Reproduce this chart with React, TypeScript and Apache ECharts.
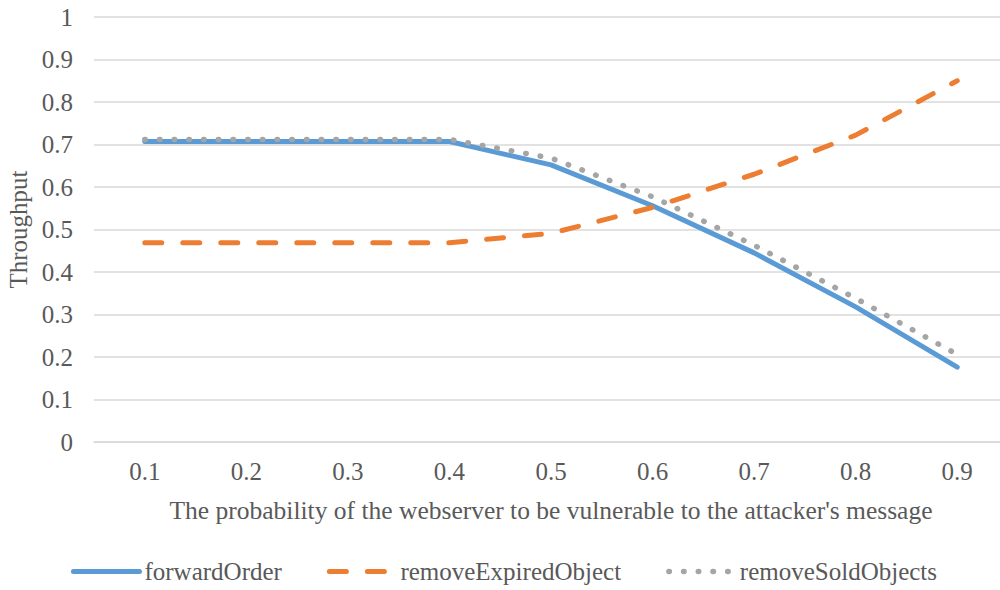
import React, { useEffect, useRef } from "react";
import * as echarts from "echarts";

const categories = ["0.1", "0.2", "0.3", "0.4", "0.5", "0.6", "0.7", "0.8", "0.9"];
const forwardOrder = [0.707, 0.707, 0.707, 0.707, 0.652, 0.556, 0.445, 0.318, 0.176];
const removeExpiredObject = [0.469, 0.469, 0.469, 0.469, 0.491, 0.552, 0.63, 0.722, 0.85];
const removeSoldObjects = [0.712, 0.712, 0.712, 0.712, 0.668, 0.577, 0.463, 0.338, 0.206];

const FONT = "Liberation Serif";
const TEXT = "#595959";
const DASH = [17, 21];
const DOT = [0.5, 14.2];

export default function App() {
  const ref = useRef<HTMLDivElement>(null);
  useEffect(() => {
    if (!ref.current) return;
    const chart = echarts.init(ref.current, undefined, { renderer: "svg" });
    chart.setOption({
      animation: false,
      backgroundColor: "#ffffff",
      textStyle: { fontFamily: FONT, color: TEXT },
      grid: {
        left: 94,
        right: 0,
        top: 17,
        bottom: 148,
        containLabel: false,
        outerBoundsMode: "none",
      },
      legend: {
        bottom: 1,
        left: "center",
        itemWidth: 66,
        itemHeight: 10,
        itemGap: 45,
        itemStyle: { opacity: 0 },
        textStyle: { fontFamily: FONT, fontSize: 25, color: TEXT },
        data: [
          { name: "forwardOrder", lineStyle: { width: 5, cap: "round" } },
          { name: "removeExpiredObject", lineStyle: { width: 5, cap: "round", type: DASH } },
          { name: "removeSoldObjects", lineStyle: { width: 5.5, cap: "round", type: DOT } },
        ],
      },
      xAxis: {
        type: "category",
        data: categories,
        boundaryGap: true,
        axisLine: { lineStyle: { color: "#d9d9d9", width: 1.5 } },
        axisTick: { show: false },
        axisLabel: { fontFamily: FONT, fontSize: 25, color: TEXT, margin: 17 },
        name: "The probability of the webserver to be vulnerable to the attacker's message",
        nameLocation: "middle",
        nameGap: 55,
        nameTextStyle: { fontFamily: FONT, fontSize: 25.5, color: TEXT },
      },
      yAxis: {
        type: "value",
        min: 0,
        max: 1,
        interval: 0.1,
        axisLine: { show: false },
        axisTick: { show: false },
        splitLine: { lineStyle: { color: "#d9d9d9", width: 1.5 } },
        axisLabel: { fontFamily: FONT, fontSize: 25, color: TEXT, margin: 21 },
        name: "Throughput",
        nameLocation: "middle",
        nameGap: 61,
        nameTextStyle: { fontFamily: FONT, fontSize: 25, color: TEXT },
      },
      series: [
        {
          name: "forwardOrder",
          type: "line",
          data: forwardOrder,
          symbol: "none",
          color: "#5B9BD5",
          lineStyle: { color: "#5B9BD5", width: 5, cap: "round", join: "round" },
        },
        {
          name: "removeExpiredObject",
          type: "line",
          data: removeExpiredObject,
          symbol: "none",
          color: "#ED7D31",
          lineStyle: { color: "#ED7D31", width: 5, type: DASH, cap: "round", join: "round" },
        },
        {
          name: "removeSoldObjects",
          type: "line",
          data: removeSoldObjects,
          symbol: "none",
          color: "#A5A5A5",
          lineStyle: { color: "#A5A5A5", width: 5.5, type: DOT, cap: "round", join: "round" },
        },
      ],
    });
    return () => chart.dispose();
  }, []);
  return (
    <div
      style={{
        position: "absolute",
        left: 0,
        top: 0,
        width: 1000,
        height: 590,
        overflow: "hidden",
        background: "#fff",
      }}
    >
      <div ref={ref} style={{ width: 1008, height: 590 }} />
    </div>
  );
}
